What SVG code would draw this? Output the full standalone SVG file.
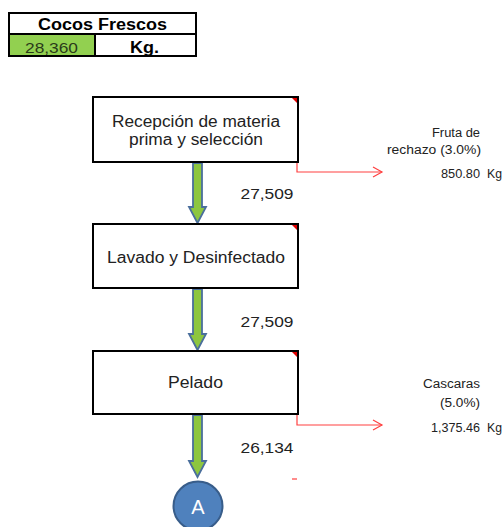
<svg xmlns="http://www.w3.org/2000/svg" width="504" height="527" viewBox="0 0 504 527">
<defs>
<style>
.t{font-family:"Liberation Sans",Arial,sans-serif;fill:#222}
.box{fill:#fff;stroke:#000;stroke-width:2}
.flow{fill:#8DC63F;stroke:#4A6E9C;stroke-width:1.8;stroke-linejoin:miter}
.rej{fill:none;stroke:#ff4040;stroke-width:1.2}
.corner{fill:#e00000}
</style>
<marker id="ah" markerWidth="12" markerHeight="12" refX="10" refY="6" orient="auto" markerUnits="userSpaceOnUse">
<path d="M1,1 L10,6 L1,11" fill="none" stroke="#ff4040" stroke-width="1.2"/>
</marker>
</defs>
<rect width="504" height="527" fill="#fff"/>

<g id="table">
<rect x="9" y="13" width="187" height="43" fill="#fff" stroke="#000" stroke-width="2"/>
<rect x="10" y="34" width="84.5" height="21" fill="#92D050"/>
<line x1="9" y1="34" x2="196" y2="34" stroke="#000" stroke-width="2"/>
<line x1="95" y1="34" x2="95" y2="56" stroke="#000" stroke-width="2"/>
<text class="t" x="102.5" y="30" font-size="16" font-weight="bold" text-anchor="middle" textLength="129" lengthAdjust="spacingAndGlyphs" style="fill:#000">Cocos Frescos</text>
<text class="t" x="51.5" y="53" font-size="15" text-anchor="middle" textLength="53" lengthAdjust="spacingAndGlyphs" style="fill:#2a3a1a">28,360</text>
<text class="t" x="144.5" y="53" font-size="16" font-weight="bold" text-anchor="middle" textLength="29" lengthAdjust="spacingAndGlyphs" style="fill:#000">Kg.</text>
</g>

<g id="connectors">
<path class="flow" d="M193,163 H202 V207 H206 L197.5,223 L189,207 H193 Z"/>
<path class="flow" d="M193,289 H202 V334 H206 L197.5,350 L189,334 H193 Z"/>
<path class="flow" d="M193,415 H202 V461 H206 L197.5,477 L189,461 H193 Z"/>
<path class="rej" d="M297,163 V172 H382" marker-end="url(#ah)"/>
<path class="rej" d="M297,415 V425 H382" marker-end="url(#ah)"/>
<line x1="292" y1="479" x2="297" y2="479" stroke="#ff4040" stroke-width="1.2"/>
</g>

<g id="n1">
<rect class="box" x="93" y="97" width="205" height="65"/>
<path class="corner" d="M292,98 H297 V103 Z"/>
<text class="t" x="196" y="127" font-size="16" text-anchor="middle" textLength="168" lengthAdjust="spacingAndGlyphs">Recepción de materia</text>
<text class="t" x="196" y="145" font-size="16" text-anchor="middle" textLength="134" lengthAdjust="spacingAndGlyphs">prima y selección</text>
</g>

<g id="n2">
<rect class="box" x="93" y="224" width="205" height="64"/>
<path class="corner" d="M292,225 H297 V230 Z"/>
<text class="t" x="196" y="263" font-size="16" text-anchor="middle" textLength="178" lengthAdjust="spacingAndGlyphs">Lavado y Desinfectado</text>
</g>

<g id="n3">
<rect class="box" x="93" y="351" width="205" height="63"/>
<path class="corner" d="M292,352 H297 V357 Z"/>
<text class="t" x="195.5" y="388" font-size="16" text-anchor="middle" textLength="55" lengthAdjust="spacingAndGlyphs">Pelado</text>
</g>

<g id="q1"><text class="t" x="267" y="199" font-size="15" text-anchor="middle" textLength="53" lengthAdjust="spacingAndGlyphs">27,509</text></g>
<g id="q2"><text class="t" x="267" y="327" font-size="15" text-anchor="middle" textLength="53" lengthAdjust="spacingAndGlyphs">27,509</text></g>
<g id="q3"><text class="t" x="267" y="453" font-size="15" text-anchor="middle" textLength="53" lengthAdjust="spacingAndGlyphs">26,134</text></g>

<g id="waste1">
<text class="t" x="480" y="137" font-size="12" text-anchor="end" textLength="48" lengthAdjust="spacingAndGlyphs">Fruta de</text>
<text class="t" x="481" y="154" font-size="12" text-anchor="end" textLength="94" lengthAdjust="spacingAndGlyphs">rechazo (3.0%)</text>
<text class="t" x="480" y="178" font-size="12" text-anchor="end" textLength="39" lengthAdjust="spacingAndGlyphs">850.80</text>
<text class="t" x="487" y="178" font-size="12" textLength="15" lengthAdjust="spacingAndGlyphs">Kg</text>
</g>

<g id="waste2">
<text class="t" x="480" y="388" font-size="12" text-anchor="end" textLength="57" lengthAdjust="spacingAndGlyphs">Cascaras</text>
<text class="t" x="480" y="407" font-size="12" text-anchor="end" textLength="40" lengthAdjust="spacingAndGlyphs">(5.0%)</text>
<text class="t" x="480" y="432" font-size="12" text-anchor="end" textLength="49" lengthAdjust="spacingAndGlyphs">1,375.46</text>
<text class="t" x="487" y="432" font-size="12" textLength="15" lengthAdjust="spacingAndGlyphs">Kg</text>
</g>

<g id="connA">
<circle cx="198" cy="506" r="24.5" fill="#4F81BD" stroke="#385D8A" stroke-width="2"/>
<text x="198" y="514" font-family="Liberation Sans,Arial,sans-serif" font-size="20" fill="#fff" text-anchor="middle">A</text>
</g>
</svg>
